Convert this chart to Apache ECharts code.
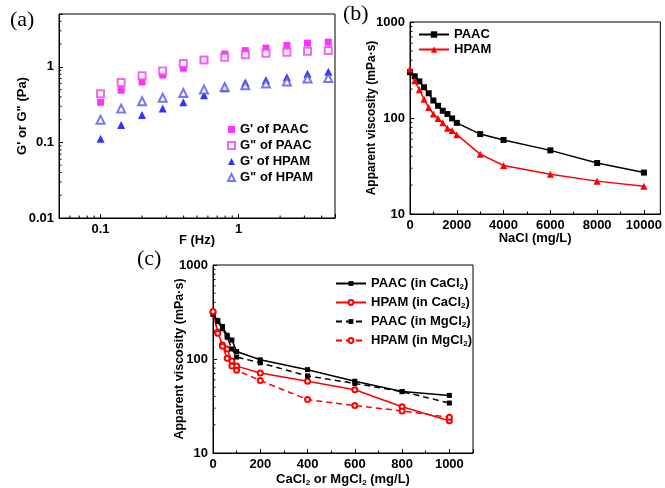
<!DOCTYPE html>
<html>
<head>
<meta charset="utf-8">
<script src="https://cdn.jsdelivr.net/npm/echarts@6/dist/echarts.min.js"></script>
<style>
  html, body { margin: 0; padding: 0; background: #fff; }
  #chart { width: 665px; height: 488px; }
</style>
</head>
<body>
<div id="chart"></div>
<script>
// (a) frequency sweep, G' and G''
var freq = [0.1, 0.141, 0.2, 0.282, 0.398, 0.562, 0.794, 1.12, 1.58, 2.24, 3.16, 4.47];
var gPrimePAAC = [0.34, 0.49, 0.63, 0.78, 0.96, 1.23, 1.48, 1.64, 1.77, 1.92, 2.06, 2.12];
var gDoublePAAC = [0.44, 0.62, 0.76, 0.88, 1.11, 1.23, 1.34, 1.44, 1.51, 1.56, 1.61, 1.64];
var gPrimeHPAM = [0.112, 0.17, 0.23, 0.28, 0.34, 0.42, 0.52, 0.62, 0.67, 0.73, 0.81, 0.86];
var gDoubleHPAM = [0.2, 0.28, 0.35, 0.39, 0.45, 0.5, 0.54, 0.57, 0.6, 0.64, 0.7, 0.71];

// (b) viscosity vs NaCl
var nacl = [0, 200, 400, 600, 800, 1000, 1200, 1400, 1600, 1800, 2000, 3000, 4000, 6000, 8000, 10000];
var paacNaCl = [300, 272, 241, 209, 181, 152, 134, 119, 110, 99, 89, 68, 59, 46, 34, 27];
var hpamNaCl = [323, 244, 197, 157, 129, 110, 99, 89, 78, 74, 67, 42, 32, 26, 22, 19.5];

// (c) viscosity vs CaCl2 / MgCl2
var salt = [0, 20, 40, 60, 80, 100, 200, 400, 600, 800, 1000];
var paacCa = [300, 257, 222, 179, 159, 120, 98, 77, 58, 45, 41];
var hpamCa = [314, 194, 141, 128, 95, 84, 71, 58, 47, 31, 22];
var paacMg = [300, 250, 210, 170, 128, 105, 91, 66, 55, 45, 34];
var hpamMg = [320, 188, 137, 102, 84, 76, 59, 37, 32, 28, 24];

var namesA = ["G' of PAAC", 'G" of PAAC', "G' of HPAM", 'G" of HPAM'];
var namesB = ['PAAC', 'HPAM'];
var namesC = ['PAAC (in CaCl2)', 'HPAM (in CaCl2)', 'PAAC (in MgCl2)', 'HPAM (in MgCl2)'];

var font = 'Liberation Sans, Arial, sans-serif';
var chart = echarts.init(document.getElementById('chart'));

function pairs(xs, ys) {
  return xs.map(function (x, i) { return [x, ys[i]]; });
}
function decadeLabel(v) {
  var e = Math.log10(v);
  return Math.abs(e - Math.round(e)) < 1e-6 ? String(+v.toPrecision(3)) : '';
}
var boldText = { color: '#000', fontSize: 13, fontWeight: 'bold', fontFamily: font };
var sub = { s: { fontSize: 8, fontWeight: 'bold', fontFamily: font, color: '#000', verticalAlign: 'bottom', lineHeight: 15 } };

function axis(o) {
  var a = {
    gridIndex: o.grid,
    type: o.type,
    min: o.min,
    max: o.max,
    name: o.name,
    nameLocation: 'middle',
    nameGap: o.nameGap,
    nameMoveOverlap: false,
    nameTextStyle: Object.assign({ rich: sub }, boldText, o.nameStyle || {}),
    axisLine: { onZero: false, lineStyle: { color: '#000', width: 1 } },
    axisTick: { inside: true, length: 4, lineStyle: { color: '#000' } },
    axisLabel: Object.assign({ margin: 5, showMinLabel: true, showMaxLabel: true, hideOverlap: false }, boldText),
    splitLine: { show: false }
  };
  if (o.type === 'log') {
    a.logBase = 10;
    a.axisLabel.formatter = decadeLabel;
  } else {
    a.interval = o.interval;
    a.minorTick = { show: true, splitNumber: 2, length: 2.5, lineStyle: { color: '#000' } };
    a.axisLabel.formatter = function (v) { return v % o.interval === 0 ? String(v) : ''; };
  }
  return a;
}

var option = {
  animation: false,
  backgroundColor: '#fff',
  textStyle: { fontFamily: font },
  grid: [
    { left: 59, top: 14, width: 276, height: 204, show: true, borderColor: '#000', borderWidth: 1 },
    { left: 410, top: 22, width: 255, height: 192, show: true, borderColor: '#000', borderWidth: 1 },
    { left: 213, top: 265, width: 260, height: 192, show: true, borderColor: '#000', borderWidth: 1 }
  ],
  xAxis: [
    axis({ grid: 0, type: 'log', min: 0.05, max: 5, name: 'F (Hz)', nameGap: 16 }),
    axis({ grid: 1, type: 'value', min: 0, max: 10700, interval: 2000, name: 'NaCl (mg/L)', nameGap: 18 }),
    axis({ grid: 2, type: 'value', min: 0, max: 1100, interval: 200, name: 'CaCl{s|2} or MgCl{s|2} (mg/L)', nameGap: 19 })
  ],
  yAxis: [
    axis({ grid: 0, type: 'log', min: 0.01, max: 5, name: 'G\' or G" (Pa)', nameGap: 30 }),
    axis({ grid: 1, type: 'log', min: 10, max: 1000, name: 'Apparent viscosity (mPa\u00b7s)', nameGap: 32, nameStyle: { fontSize: 12 } }),
    axis({ grid: 2, type: 'log', min: 10, max: 1000, name: 'Apparent viscosity (mPa\u00b7s)', nameGap: 27, nameStyle: { fontSize: 12.5 } })
  ],
  legend: [
    {
      orient: 'vertical', left: 222, top: 118, itemWidth: 7, itemHeight: 7, itemGap: 3,
      textStyle: boldText, data: namesA
    },
    {
      orient: 'vertical', left: 413, top: 23, itemWidth: 30, itemHeight: 8, itemGap: 2,
      textStyle: boldText, data: namesB
    },
    {
      orient: 'vertical', left: 330, top: 272, itemWidth: 30, itemHeight: 6, itemGap: 5,
      textStyle: Object.assign({ rich: sub }, boldText),
      formatter: function (n) { return n.replace(/Cl2/g, 'Cl{s|2}'); },
      data: namesC
    }
  ],
  series: [
    { name: namesA[0], type: 'scatter', xAxisIndex: 0, yAxisIndex: 0, symbol: 'rect', symbolSize: 7,
      itemStyle: { color: '#ff00ff' }, data: pairs(freq, gPrimePAAC) },
    { name: namesA[1], type: 'scatter', xAxisIndex: 0, yAxisIndex: 0, symbol: 'emptyRect', symbolSize: 7,
      itemStyle: { color: '#ee44ee', borderWidth: 1 }, data: pairs(freq, gDoublePAAC) },
    { name: namesA[2], type: 'scatter', xAxisIndex: 0, yAxisIndex: 0, symbol: 'triangle', symbolSize: 8,
      itemStyle: { color: '#0000ff' }, data: pairs(freq, gPrimeHPAM) },
    { name: namesA[3], type: 'scatter', xAxisIndex: 0, yAxisIndex: 0, symbol: 'emptyTriangle', symbolSize: 8,
      itemStyle: { color: '#5555ee', borderWidth: 1 }, data: pairs(freq, gDoubleHPAM) },

    { name: namesB[0], type: 'line', xAxisIndex: 1, yAxisIndex: 1, symbol: 'rect', symbolSize: 6,
      itemStyle: { color: '#000' }, lineStyle: { color: '#000', width: 1.5 }, data: pairs(nacl, paacNaCl) },
    { name: namesB[1], type: 'line', xAxisIndex: 1, yAxisIndex: 1, symbol: 'triangle', symbolSize: 7,
      itemStyle: { color: '#ff0000' }, lineStyle: { color: '#ff0000', width: 1.5 }, data: pairs(nacl, hpamNaCl) },

    { name: namesC[0], type: 'line', xAxisIndex: 2, yAxisIndex: 2, symbol: 'rect', symbolSize: 5,
      itemStyle: { color: '#000' }, lineStyle: { color: '#000', width: 1.5 }, data: pairs(salt, paacCa) },
    { name: namesC[1], type: 'line', xAxisIndex: 2, yAxisIndex: 2, symbol: 'emptyCircle', symbolSize: 5,
      itemStyle: { color: '#ff0000', borderWidth: 1 }, lineStyle: { color: '#ff0000', width: 1.5 }, data: pairs(salt, hpamCa) },
    { name: namesC[2], type: 'line', xAxisIndex: 2, yAxisIndex: 2, symbol: 'rect', symbolSize: 5,
      itemStyle: { color: '#000' }, lineStyle: { color: '#000', width: 1.5, type: [6, 4] }, data: pairs(salt, paacMg) },
    { name: namesC[3], type: 'line', xAxisIndex: 2, yAxisIndex: 2, symbol: 'emptyCircle', symbolSize: 5,
      itemStyle: { color: '#ff0000', borderWidth: 1 }, lineStyle: { color: '#ff0000', width: 1.5, type: [6, 4] }, data: pairs(salt, hpamMg) }
  ]
};
chart.setOption(option);

// minor ticks at 2..9 of each decade on the log axes
var minorSpecs = [
  { dim: 'x', idx: 0, lo: 0.05, hi: 5, other: 0.01 },
  { dim: 'y', idx: 0, lo: 0.01, hi: 5, other: 0.05 },
  { dim: 'y', idx: 1, lo: 10, hi: 1000, other: 0 },
  { dim: 'y', idx: 2, lo: 10, hi: 1000, other: 0 }
];
var gfx = [];
minorSpecs.forEach(function (s) {
  for (var e = Math.floor(Math.log10(s.lo)); e < Math.ceil(Math.log10(s.hi)); e++) {
    for (var d = 2; d <= 9; d++) {
      var v = d * Math.pow(10, e);
      if (v <= s.lo || v >= s.hi) continue;
      var shape;
      if (s.dim === 'x') {
        var px = chart.convertToPixel({ xAxisIndex: s.idx }, v);
        var py = chart.convertToPixel({ yAxisIndex: s.idx }, s.other);
        shape = { x1: px, y1: py, x2: px, y2: py - 2.5 };
      } else {
        var qy = chart.convertToPixel({ yAxisIndex: s.idx }, v);
        var qx = chart.convertToPixel({ xAxisIndex: s.idx }, s.other);
        shape = { x1: qx, y1: qy, x2: qx + 2.5, y2: qy };
      }
      gfx.push({ type: 'line', shape: shape, style: { stroke: '#000', lineWidth: 1 }, silent: true });
    }
  }
});
var panelFont = { fill: '#000', fontSize: 22, fontFamily: 'Liberation Serif, Times New Roman, serif' };
gfx.push({ type: 'text', left: 10, top: 9, style: Object.assign({ text: '(a)' }, panelFont) });
gfx.push({ type: 'text', left: 343, top: 3, style: Object.assign({ text: '(b)' }, panelFont) });
gfx.push({ type: 'text', left: 137, top: 248, style: Object.assign({ text: '(c)' }, panelFont) });
chart.setOption({ graphic: gfx });
</script>
</body>
</html>
